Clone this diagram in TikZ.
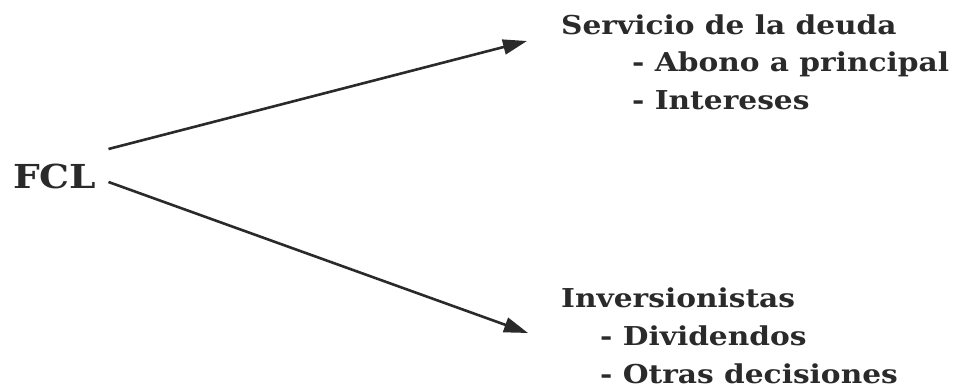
\documentclass[tikz,border=0pt]{standalone}
\usepackage{fontspec}
\setmainfont[FakeStretch=1.14]{DejaVu Serif}
\usepackage{tikz}
\usetikzlibrary{arrows.meta}
\definecolor{tinta}{HTML}{2A2A2A}

\begin{document}
\begin{tikzpicture}[x=1pt,y=-1pt,
  rama/.style={font=\fontsize{26}{30}\selectfont\bfseries,text=tinta,anchor=base west,inner sep=0pt},
  flecha/.style={-{Triangle[length=24pt,width=15pt]},line width=2.6pt,draw=tinta}]
\useasboundingbox (0,0) rectangle (959,390);
\node[rama,font=\fontsize{33}{38}\selectfont\bfseries] (fcl) at (13,189) {FCL};
\node[rama] (deuda) at (561,35) {Servicio de la deuda};
\node[rama] (abono) at (632,72) {- Abono a principal};
\node[rama] (int) at (632,110) {- Intereses};
\node[rama] (inv) at (561,308) {Inversionistas};
\node[rama] (div) at (600,345) {- Dividendos};
\node[rama] (otras) at (600,383) {- Otras decisiones};
\draw[flecha] ([shift={(12,-40)}]fcl.base east) -- ([shift={(-34,6)}]deuda.base west);
\draw[flecha] ([shift={(12,-7)}]fcl.base east) -- ([shift={(-33,25)}]inv.base west);
\end{tikzpicture}
\end{document}
